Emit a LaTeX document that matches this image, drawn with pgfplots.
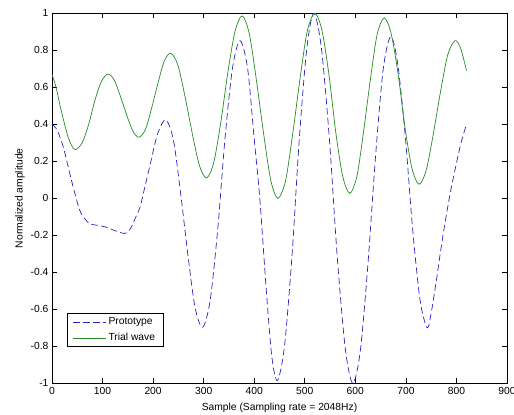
\documentclass[border=0pt]{standalone}
\usepackage{pgfplots}
\pgfplotsset{compat=1.18}
\usepackage{fontspec}
\setmainfont{Liberation Sans}
\definecolor{mblue}{RGB}{35,35,195}
\definecolor{mgreen}{RGB}{35,140,35}
\begin{document}
\begin{tikzpicture}
\begin{axis}[
    scale only axis,
    width=455pt,
    height=370pt,
    xmin=0, xmax=900,
    ymin=-1, ymax=1,
    xtick={0,100,...,900},
    ytick={-1,-0.8,...,1},
    tick align=inside,
    major tick length=5pt,
    axis line style={line width=0.6pt},
    tick style={line width=0.6pt, black},
    tick label style={font=\fontsize{10.3}{12}\selectfont},
    /pgf/number format/assume math mode=true,
    yticklabel style={/pgf/number format/fixed, /pgf/number format/precision=1},
    xlabel={Sample (Sampling rate = 2048Hz)},
    ylabel={Normalized amplitude},
    label style={font=\fontsize{10.3}{12}\selectfont},
    xlabel style={yshift=-2pt},
    ylabel style={yshift=-1pt},
    legend style={
        at={(0.032,0.098)}, anchor=south west,
        font=\fontsize{10.3}{12}\selectfont,
        draw=black, line width=0.6pt,
        inner xsep=6pt, inner ysep=2.3pt, row sep=3pt,
        nodes={inner sep=2pt}
    },
    legend cell align=left,
    legend image code/.code={\draw[#1] (0pt,0pt) -- (33pt,0pt);},
    clip=false
]

% --- Prototype ---
\addplot[mblue, line width=0.7pt, dash pattern=on 6.5pt off 3.5pt, smooth] coordinates {
    (0,0.40) (10,0.37) (22,0.28) (32,0.17) (42,0.06) (55,-0.066) (65,-0.111)
    (75,-0.138) (95,-0.148) (108,-0.157) (125,-0.175) (144,-0.19) (155,-0.165)
    (164,-0.111) (174,-0.049) (184,0.065) (194,0.18) (209,0.35) (225,0.424)
    (240,0.317) (254,0.037) (269,-0.310) (283,-0.590) (298,-0.697)
    (313,-0.549) (328,-0.162) (342,0.317) (357,0.704) (372,0.852)
    (387,0.70) (400,0.32) (411,0.0) (424,-0.5) (435,-0.86) (446,-0.985)
    (460,-0.795) (475,-0.299) (489,0.314) (504,0.810) (518,1.0)
    (533,0.809) (549,0.309) (564,-0.309) (580,-0.809) (595,-1.0)
    (610,-0.821) (625,-0.353) (640,0.227) (655,0.695) (670,0.874)
    (684,0.724) (699,0.330) (713,-0.156) (728,-0.550) (742,-0.700)
    (750,-0.62) (760,-0.45) (770,-0.26) (780,-0.09) (790,0.06) (800,0.19)
    (810,0.31) (820,0.40)
};
\addlegendentry{Prototype}

% --- Trial wave ---
\addplot[mgreen, line width=0.7pt, smooth] coordinates {
    (0,0.67) (8,0.60) (16,0.50) (24,0.41) (32,0.33) (40,0.28) (47,0.263)
    (60,0.302) (73,0.404) (85,0.531) (98,0.633) (111,0.672)
    (123,0.639) (135,0.554) (148,0.448) (160,0.363) (172,0.330)
    (185,0.373) (197,0.487) (210,0.627) (222,0.741) (235,0.784)
    (249,0.720) (263,0.551) (278,0.343) (292,0.174) (306,0.110)
    (320,0.194) (334,0.413) (348,0.683) (362,0.902) (376,0.986)
    (390,0.892) (404,0.645) (419,0.341) (433,0.094) (447,0.000)
    (462,0.096) (476,0.346) (491,0.655) (505,0.905) (520,1.000)
    (534,0.907) (548,0.664) (561,0.363) (575,0.120) (589,0.027)
    (603,0.118) (616,0.355) (630,0.647) (643,0.884) (657,0.975)
    (671,0.889) (685,0.664) (698,0.387) (712,0.162) (726,0.076)
    (740,0.150) (754,0.344) (769,0.584) (783,0.778) (797,0.852)
    (808,0.813) (820,0.69)
};
\addlegendentry{Trial wave}

\end{axis}
\pgfresetboundingbox
\path (-52pt,-31pt) rectangle (462pt,383.3pt);
\end{tikzpicture}
\end{document}
